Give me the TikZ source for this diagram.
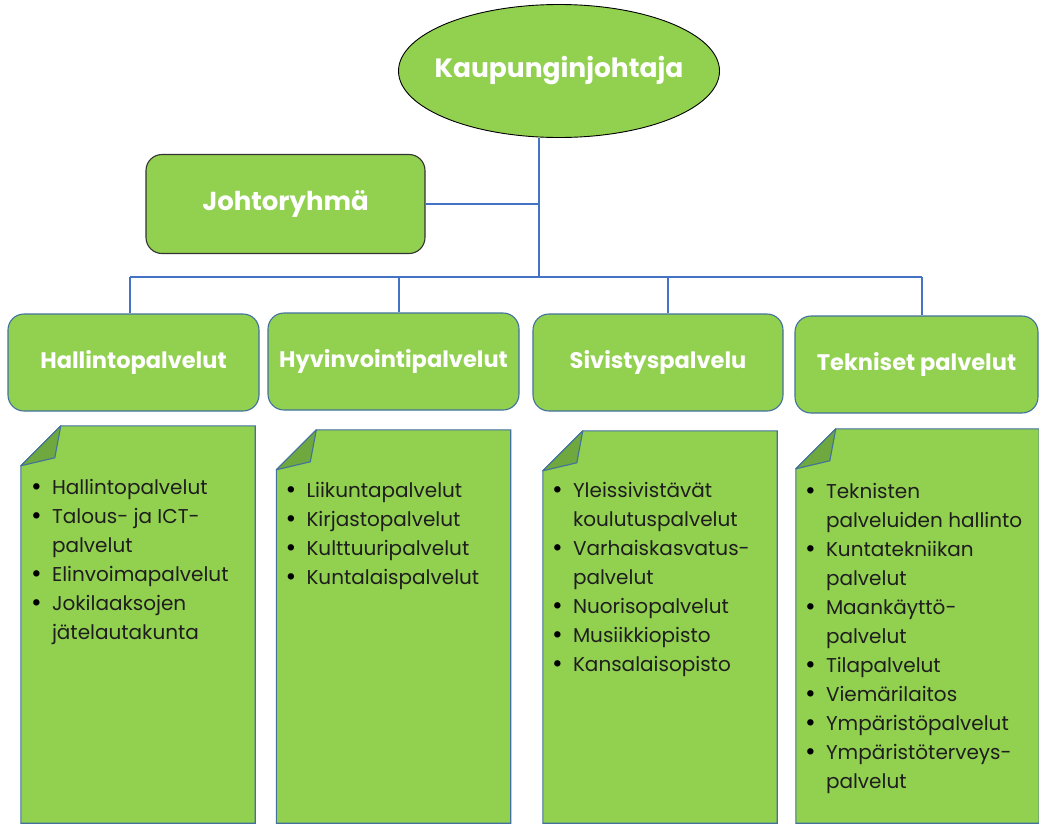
\documentclass[tikz,border=0pt]{standalone}
\usepackage{fontspec}
\setmainfont{Poppins}
\usetikzlibrary{shapes.geometric,calc}
\definecolor{gfill}{HTML}{92D050}
\definecolor{gdark}{HTML}{6EA83E}
\definecolor{edgeb}{HTML}{41719C}
\definecolor{linkb}{HTML}{4472C4}
\definecolor{txt}{HTML}{1E1E1E}
\newcommand{\bi}{\makebox[21pt][l]{\color{black}\fontsize{26}{26}\selectfont\raisebox{-1pt}{\textbullet}}}
\newcommand{\ci}{\hspace*{21pt}}
\newcommand{\rowl}[1]{\hbox{#1}}
\newcommand{\itemlist}[1]{\vtop{\baselineskip=29pt\lineskiplimit=-20pt\lineskip=0pt #1}}
\begin{document}
\begin{tikzpicture}[x=1pt,y=-1pt,
  top/.style={ellipse, draw=black, line width=0.9pt, fill=gfill, text=white,
    font=\bfseries\fontsize{26.5}{30}\selectfont, minimum width=321pt, minimum height=133pt, inner sep=0pt},
  group/.style={rectangle, rounded corners=16pt, draw=black!80, line width=1.1pt, fill=gfill, text=white,
    font=\bfseries\fontsize{26}{30}\selectfont, minimum width=279pt, minimum height=99pt, inner sep=0pt},
  head/.style={rectangle, rounded corners=16pt, draw=edgeb, line width=1.1pt, fill=gfill, text=white,
    font=\bfseries\fontsize{22.5}{26}\selectfont, minimum height=97pt, inner sep=0pt},
  notebox/.style={rectangle, minimum width=234pt, inner sep=0pt},
  noteedge/.style={draw=edgeb, line width=1.1pt, fill=gfill},
  fold/.style={draw=edgeb, line width=1.1pt, fill=gdark, line join=round},
  items/.style={text=txt, font=\fontsize{20}{29}\selectfont, inner sep=0pt, anchor=base west},
  link/.style={draw=linkb, line width=1.3pt}
]
\useasboundingbox (0,0) rectangle (1039,825);

% top nodes
\node[top] (kj) at (559,71) {\makebox[0pt]{Kaupunginjohtaja}};
\node[group] (jr) at (285.5,204) {Johtoryhmä};

% department heads
\node[head, minimum width=251pt] (h1) at (133.5,362.5) {Hallintopalvelut};
\node[head, minimum width=251pt] (h2) at (393.5,361.5) {Hyvinvointipalvelut};
\node[head, minimum width=250pt] (h3) at (658,362.5) {Sivistyspalvelu};
\node[head, minimum width=243pt] (h4) at (916.5,364.5) {Tekniset palvelut};

% connectors
\coordinate (j) at (539,277);
\coordinate (d1) at (130,277);
\coordinate (d2) at (399,277);
\coordinate (d3) at (668,277);
\coordinate (d4) at (922,277);
\draw[link] (j |- kj.south) -- (j);
\draw[link] (jr.east) -- (jr.east -| j);
\draw[link] (d1) -- (d4);
\draw[link] (d1) -- (d1 |- h1.north);
\draw[link] (d2) -- (d2 |- h2.north);
\draw[link] (d3) -- (d3 |- h3.north);
\draw[link] (d4) -- (d4 |- h4.north);

% notes
\node[notebox, minimum height=397pt] (n1) at (138,624.5) {};
\node[notebox, minimum height=393pt] (n2) at (393.5,626.5) {};
\node[notebox, minimum height=392pt] (n3) at (660,627) {};
\node[notebox, minimum width=243pt, minimum height=394pt] (n4) at (917.5,626) {};
\foreach \n in {n1,n2,n3,n4}{
  \draw[noteedge] ($(\n.north west)+(40,0)$) -- (\n.north east) -- (\n.south east)
     -- (\n.south west) -- ($(\n.north west)+(0,40)$) -- cycle;
  \draw[fold] ($(\n.north west)+(40,0)$) -- ($(\n.north west)+(34,32)$)
     -- ($(\n.north west)+(0,40)$) -- cycle;
}

\node[items] (l1) at ($(n1.north west)+(10,69)$) {\itemlist{\rowl{\bi Hallintopalvelut}\rowl{\bi Talous- ja ICT-}\rowl{\ci palvelut}
  \rowl{\bi Elinvoimapalvelut}\rowl{\bi Jokilaaksojen}\rowl{\ci jätelautakunta}}};
\node[items] (l2) at ($(n2.north west)+(9,68)$) {\itemlist{\rowl{\bi Liikuntapalvelut}\rowl{\bi Kirjastopalvelut}
  \rowl{\bi Kulttuuripalvelut}\rowl{\bi Kuntalaispalvelut}}};
\node[items] (l3) at ($(n3.north west)+(9,67)$) {\itemlist{\rowl{\bi Yleissivistävät}\rowl{\ci koulutuspalvelut}
  \rowl{\bi Varhaiskasvatus-}\rowl{\ci palvelut}\rowl{\bi Nuorisopalvelut}\rowl{\bi Musiikkiopisto}\rowl{\bi Kansalaisopisto}}};
\node[items] (l4) at ($(n4.north west)+(9,70)$) {\itemlist{\rowl{\bi Teknisten}\rowl{\ci palveluiden hallinto}
  \rowl{\bi Kuntatekniikan}\rowl{\ci palvelut}\rowl{\bi Maankäyttö-}\rowl{\ci palvelut}\rowl{\bi Tilapalvelut}
  \rowl{\bi Viemärilaitos}\rowl{\bi Ympäristöpalvelut}\rowl{\bi Ympäristöterveys-}\rowl{\ci palvelut}}};
\end{tikzpicture}
\end{document}
